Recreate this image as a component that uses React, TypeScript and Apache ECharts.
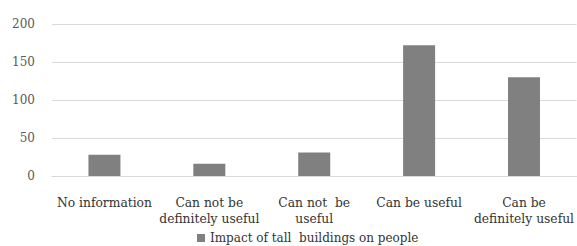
import React, { useEffect, useRef } from "react";
import * as echarts from "echarts";

const categories = [
  "No information",
  "Can not be\ndefinitely useful",
  "Can not  be\nuseful",
  "Can be useful",
  "Can be\ndefinitely useful",
];
const values = [28, 16, 31, 172, 130];
const seriesName = "Impact of tall  buildings on people";
const yTicks = { min: 0, max: 200, interval: 50 };

export default function App() {
  const ref = useRef<HTMLDivElement>(null);
  useEffect(() => {
    if (!ref.current) return;
    const chart = echarts.init(ref.current, undefined, { renderer: "svg" });
    const font = "DejaVu Serif";
    chart.setOption({
      animation: false,
      textStyle: { fontFamily: font },
      grid: { left: 52, right: 0, top: 24, bottom: 70 },
      legend: {
        data: [seriesName],
        left: 192,
        top: 227,
        itemWidth: 8,
        itemHeight: 8,
        icon: "rect",
        textStyle: { fontFamily: font, fontSize: 12, color: "#333" },
      },
      xAxis: {
        type: "category",
        data: categories,
        axisLine: { show: true, lineStyle: { color: "#d9d9d9" } },
        axisTick: { show: false },
        axisLabel: {
          interval: 0,
          margin: 19,
          fontFamily: font,
          fontSize: 12.3,
          lineHeight: 16,
          color: "#333",
        },
      },
      yAxis: {
        type: "value",
        min: yTicks.min,
        max: yTicks.max,
        interval: yTicks.interval,
        axisLine: { show: false },
        axisTick: { show: false },
        splitLine: { lineStyle: { color: "#d9d9d9" } },
        axisLabel: { margin: 17, fontFamily: font, fontSize: 12, color: "#595959" },
      },
      series: [
        {
          name: seriesName,
          type: "bar",
          data: values,
          barWidth: 32,
          itemStyle: { color: "#808080" },
        },
      ],
    });
    return () => chart.dispose();
  }, []);
  return (
    <div
      ref={ref}
      style={{ position: "fixed", left: 0, top: 0, width: 577, height: 246, background: "#fff" }}
    />
  );
}
